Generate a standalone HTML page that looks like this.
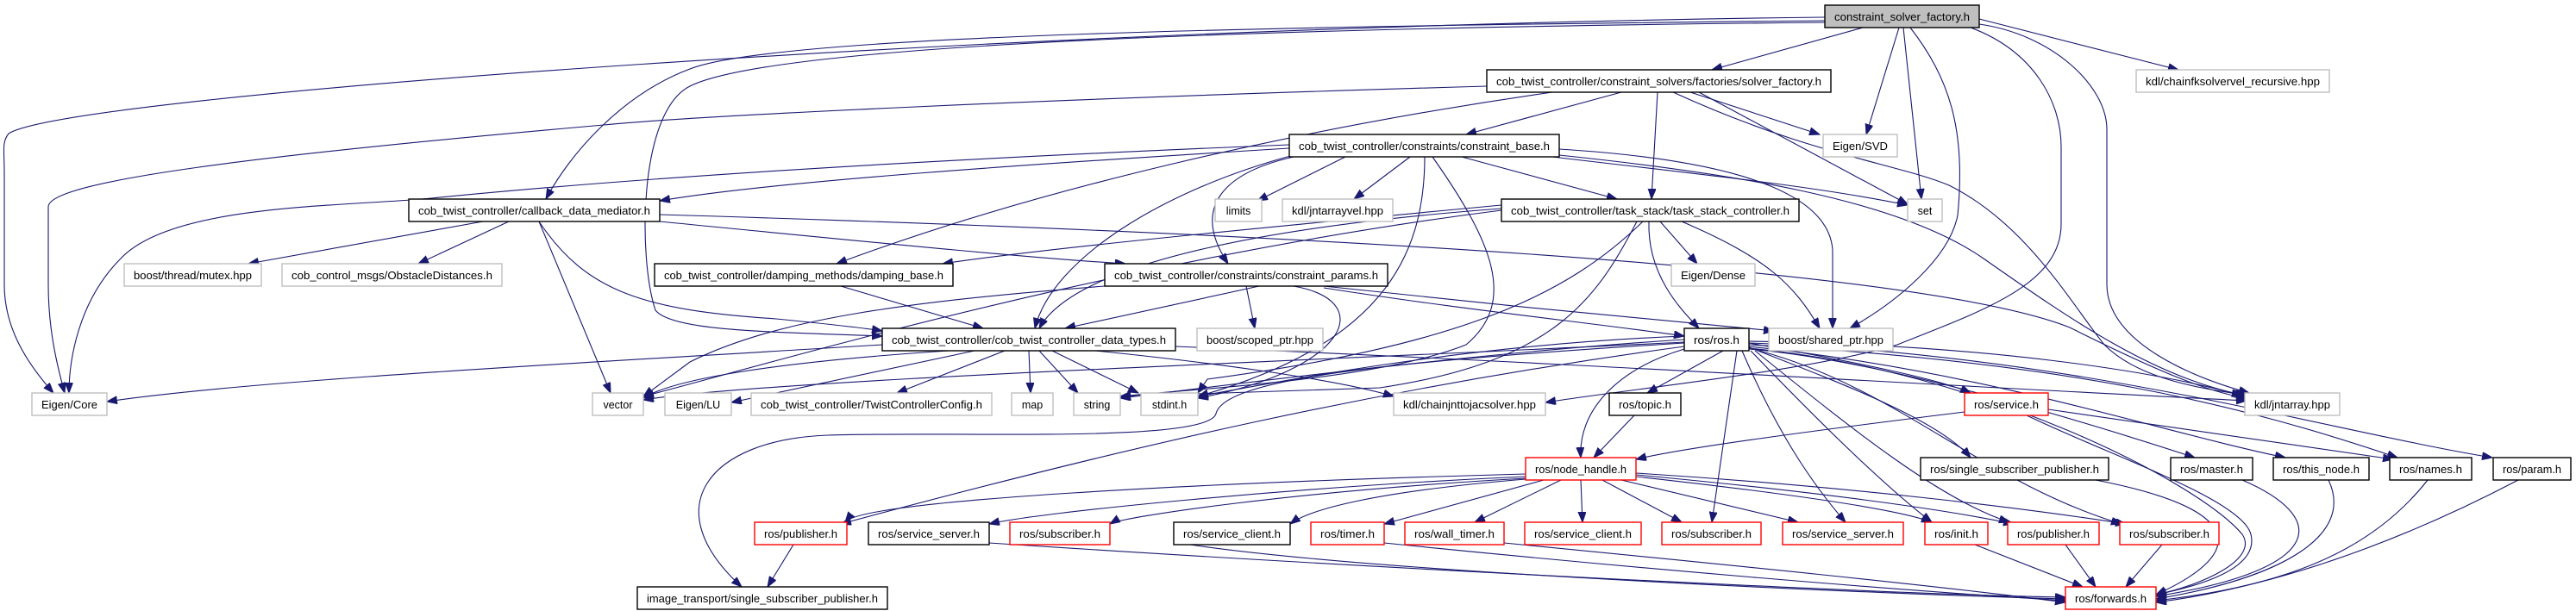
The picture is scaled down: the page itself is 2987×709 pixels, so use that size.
<!DOCTYPE html>
<html><head><meta charset="utf-8"><style>
html,body{margin:0;padding:0;background:#fff;}
svg{display:block;}
text{font-family:"Liberation Sans",Arial,sans-serif;font-size:12.5px;fill:#000;}
.e{fill:none;stroke:#191970;stroke-width:1.1;marker-end:url(#ah);}
.b{fill:#fff;stroke:#000;stroke-width:1.4;}
.g{fill:#fff;stroke:#bfbfbf;stroke-width:1.4;}
.r{fill:#fff;stroke:#ff0000;stroke-width:1.4;}
.t{fill:#bfbfbf;stroke:#000;stroke-width:1.4;}
</style></head><body>
<svg width="2987" height="709" viewBox="0 0 2987 709" xmlns="http://www.w3.org/2000/svg">
<defs><marker id="ah" markerWidth="13" markerHeight="10" refX="12" refY="4.5" orient="auto" markerUnits="userSpaceOnUse"><path d="M0,0 L12,4.5 L0,9 z" fill="#191970" stroke="#191970"/></marker></defs>
<g>
<path class="e" d="M2116,20 C1200,30 80,110 10,155 C2,165 5,175 5,200 L5,330 C5,380 30,420 62,456"/>
<path class="e" d="M2116,24 C1500,30 900,40 800,80 C720,110 660,180 633,231"/>
<path class="e" d="M2116,26 C1500,32 900,50 800,100 C740,130 740,300 760,360 C780,385 900,385 1023,390"/>
<path class="e" d="M2160,32 L1985,81"/>
<path class="e" d="M2202,32 L2164,156"/>
<path class="e" d="M2207,32 L2228,231"/>
<path class="e" d="M2215,32 C2260,90 2280,150 2270,250 C2260,300 2200,350 2145,381"/>
<path class="e" d="M2295,28 C2380,40 2443,100 2443,150 L2443,330 C2443,400 2550,440 2608,456"/>
<path class="e" d="M2295,22 L2526,81"/>
<path class="e" d="M2285,32 C2360,60 2390,120 2390,170 L2390,260 C2390,330 2300,360 2200,400 C2100,430 1900,450 1792,467"/>
<path class="e" d="M1724,100 C1200,115 800,135 700,145 C300,180 56,210 56,240 L56,330 C56,380 65,420 75,456"/>
<path class="e" d="M1800,107 C1500,150 1200,220 970,306"/>
<path class="e" d="M1880,107 L1700,156"/>
<path class="e" d="M1922,107 L1915,231"/>
<path class="e" d="M1960,107 L2110,156"/>
<path class="e" d="M1970,107 L2212,237"/>
<path class="e" d="M1940,107 C2100,180 2200,190 2260,215 C2350,260 2400,350 2440,400 C2480,440 2550,450 2600,458"/>
<path class="e" d="M1495,168 C1200,180 800,200 500,230 C400,240 200,236 140,300 C90,350 80,420 80,456"/>
<path class="e" d="M1495,172 C1200,190 900,210 765,233"/>
<path class="e" d="M1560,182 L1458,233"/>
<path class="e" d="M1635,182 L1570,231"/>
<path class="e" d="M1695,182 L1875,231"/>
<path class="e" d="M1800,182 C1950,200 2100,215 2212,238"/>
<path class="e" d="M1808,173 C2000,185 2120,220 2125,290 L2125,381"/>
<path class="e" d="M1808,180 C2000,200 2200,230 2300,300 C2400,370 2500,440 2605,459"/>
<path class="e" d="M1500,182 C1420,200 1380,240 1424,306"/>
<path class="e" d="M1500,180 C1350,220 1220,300 1200,381"/>
<path class="e" d="M1652,182 C1652,300 1600,400 1389,460"/>
<path class="e" d="M1661,182 C1730,280 1760,350 1700,400 C1600,440 1400,450 1299,460"/>
<path class="e" d="M560,257 L288,306"/>
<path class="e" d="M590,257 L485,306"/>
<path class="e" d="M625,257 L708,456"/>
<path class="e" d="M625,257 C680,340 750,360 900,370 C950,375 1000,380 1023,384"/>
<path class="e" d="M765,257 C1000,280 1200,300 1305,306"/>
<path class="e" d="M765,249 C1300,265 2200,300 2400,380 C2500,430 2560,455 2605,462"/>
<path class="e" d="M1741,238 C1400,270 1200,290 1093,306"/>
<path class="e" d="M1741,242 C1500,260 1250,300 1205,381"/>
<path class="e" d="M1741,244 C1300,300 900,420 746,460"/>
<path class="e" d="M1925,257 L1968,306"/>
<path class="e" d="M1912,257 C1910,320 1950,360 1970,381"/>
<path class="e" d="M1950,257 C2050,300 2080,330 2110,381"/>
<path class="e" d="M1905,257 C1820,340 1700,400 1400,440 L1389,456"/>
<path class="e" d="M1898,257 C1850,350 1800,420 1600,450 L1299,460"/>
<path class="e" d="M975,332 L1140,381"/>
<path class="e" d="M1460,332 L1235,381"/>
<path class="e" d="M1281,332 C1050,350 900,370 800,420 L746,460"/>
<path class="e" d="M1500,332 C1600,350 1560,430 1389,462"/>
<path class="e" d="M1445,332 L1455,381"/>
<path class="e" d="M1535,332 C1700,350 1900,370 2057,384"/>
<path class="e" d="M1535,334 C1700,360 1850,375 1953,390"/>
<path class="e" d="M1023,400 C700,420 300,440 124,466"/>
<path class="e" d="M1100,407 C900,420 780,440 746,462"/>
<path class="e" d="M1130,407 L848,467"/>
<path class="e" d="M1165,407 L1040,456"/>
<path class="e" d="M1193,407 L1195,456"/>
<path class="e" d="M1205,407 L1250,456"/>
<path class="e" d="M1220,407 L1320,456"/>
<path class="e" d="M1270,407 C1400,420 1550,440 1616,460"/>
<path class="e" d="M1363,402 C1800,420 2300,450 2605,465"/>
<path class="e" d="M1953,390 C1700,400 1500,440 1389,460"/>
<path class="e" d="M1953,394 C1700,410 1400,450 1299,462"/>
<path class="e" d="M1953,397 C1500,420 900,440 746,464"/>
<path class="e" d="M1953,398 C1600,420 1420,440 1410,480 C1400,515 1100,500 960,505 C820,510 760,590 860,681"/>
<path class="e" d="M1953,402 C1600,450 1300,520 975,608"/>
<path class="e" d="M1998,407 L1910,456"/>
<path class="e" d="M1953,405 C1870,430 1830,480 1833,531"/>
<path class="e" d="M2028,398 C2150,420 2250,440 2285,456"/>
<path class="e" d="M2028,403 C2150,450 2250,490 2285,531"/>
<path class="e" d="M2014,407 L1985,606"/>
<path class="e" d="M2020,407 C2060,500 2100,560 2140,606"/>
<path class="e" d="M2030,407 C2100,480 2180,560 2240,606"/>
<path class="e" d="M2035,407 C2150,500 2250,580 2330,606"/>
<path class="e" d="M2040,407 C2200,450 2300,560 2460,608"/>
<path class="e" d="M2028,405 C2200,420 2450,500 2545,531"/>
<path class="e" d="M2028,402 C2300,430 2500,500 2650,531"/>
<path class="e" d="M2028,400 C2400,420 2600,470 2780,531"/>
<path class="e" d="M2028,398 C2400,410 2700,500 2890,531"/>
<path class="e" d="M2028,396 C2300,400 2500,430 2603,460"/>
<path class="e" d="M2028,404 C2300,430 2550,560 2600,620 C2620,650 2550,680 2500,690"/>
<path class="e" d="M1895,482 L1848,531"/>
<path class="e" d="M2278,478 C2100,500 1950,520 1897,533"/>
<path class="e" d="M2375,475 L2775,533"/>
<path class="e" d="M2350,482 C2450,530 2600,580 2610,620 C2620,660 2550,680 2500,690"/>
<path class="e" d="M1769,550 C1400,560 1000,580 980,606"/>
<path class="e" d="M1769,553 C1500,565 1200,595 1147,608"/>
<path class="e" d="M1769,555 C1500,570 1300,600 1287,608"/>
<path class="e" d="M1769,556 C1600,570 1520,590 1496,608"/>
<path class="e" d="M1790,557 L1605,608"/>
<path class="e" d="M1810,557 L1710,606"/>
<path class="e" d="M1833,557 L1835,606"/>
<path class="e" d="M1858,557 L1950,606"/>
<path class="e" d="M1880,557 L2085,606"/>
<path class="e" d="M1897,553 C2050,570 2200,590 2240,606"/>
<path class="e" d="M1897,551 C2100,570 2250,590 2335,608"/>
<path class="e" d="M1897,549 C2150,565 2350,590 2465,608"/>
<path class="e" d="M920,632 L890,681"/>
<path class="e" d="M1147,630 C1600,660 2200,690 2395,693"/>
<path class="e" d="M1380,632 C1600,665 2200,690 2395,695"/>
<path class="e" d="M1605,630 C1900,660 2200,685 2395,697"/>
<path class="e" d="M1744,630 C2000,655 2250,680 2395,699"/>
<path class="e" d="M2290,632 L2415,681"/>
<path class="e" d="M2395,632 L2430,681"/>
<path class="e" d="M2507,632 L2465,681"/>
<path class="e" d="M2430,557 C2600,590 2610,640 2500,690"/>
<path class="e" d="M2600,557 C2700,600 2700,660 2500,692"/>
<path class="e" d="M2700,557 C2730,620 2650,670 2500,695"/>
<path class="e" d="M2815,557 C2750,640 2650,680 2500,697"/>
<path class="e" d="M2920,557 C2800,620 2650,680 2500,699"/>
</g>
<g>
<rect class="t" x="2116" y="6" width="179" height="26"/><text x="2205.5" y="24" text-anchor="middle" textLength="157" lengthAdjust="spacingAndGlyphs">constraint_solver_factory.h</text>
<rect class="b" x="1724" y="81" width="399" height="26"/><text x="1923.5" y="99" text-anchor="middle" textLength="377" lengthAdjust="spacingAndGlyphs">cob_twist_controller/constraint_solvers/factories/solver_factory.h</text>
<rect class="g" x="2477" y="81" width="224" height="26"/><text x="2589" y="99" text-anchor="middle" textLength="202" lengthAdjust="spacingAndGlyphs">kdl/chainfksolvervel_recursive.hpp</text>
<rect class="b" x="1495" y="156" width="313" height="26"/><text x="1651.5" y="174" text-anchor="middle" textLength="291" lengthAdjust="spacingAndGlyphs">cob_twist_controller/constraints/constraint_base.h</text>
<rect class="g" x="2114" y="156" width="86" height="26"/><text x="2157" y="174" text-anchor="middle" textLength="64" lengthAdjust="spacingAndGlyphs">Eigen/SVD</text>
<rect class="b" x="474" y="231" width="291" height="26"/><text x="619.5" y="249" text-anchor="middle" textLength="269" lengthAdjust="spacingAndGlyphs">cob_twist_controller/callback_data_mediator.h</text>
<rect class="g" x="1409" y="231" width="54" height="26"/><text x="1436" y="249" text-anchor="middle">limits</text>
<rect class="g" x="1487" y="231" width="128" height="26"/><text x="1551" y="249" text-anchor="middle" textLength="106" lengthAdjust="spacingAndGlyphs">kdl/jntarrayvel.hpp</text>
<rect class="b" x="1741" y="231" width="345" height="26"/><text x="1913.5" y="249" text-anchor="middle" textLength="323" lengthAdjust="spacingAndGlyphs">cob_twist_controller/task_stack/task_stack_controller.h</text>
<rect class="g" x="2212" y="231" width="40" height="26"/><text x="2232" y="249" text-anchor="middle">set</text>
<rect class="g" x="144" y="306" width="159" height="26"/><text x="223.5" y="324" text-anchor="middle" textLength="137" lengthAdjust="spacingAndGlyphs">boost/thread/mutex.hpp</text>
<rect class="g" x="327" y="306" width="255" height="26"/><text x="454.5" y="324" text-anchor="middle" textLength="233" lengthAdjust="spacingAndGlyphs">cob_control_msgs/ObstacleDistances.h</text>
<rect class="b" x="759" y="306" width="346" height="26"/><text x="932" y="324" text-anchor="middle" textLength="324" lengthAdjust="spacingAndGlyphs">cob_twist_controller/damping_methods/damping_base.h</text>
<rect class="b" x="1281" y="306" width="328" height="26"/><text x="1445" y="324" text-anchor="middle" textLength="306" lengthAdjust="spacingAndGlyphs">cob_twist_controller/constraints/constraint_params.h</text>
<rect class="g" x="1938" y="306" width="97" height="26"/><text x="1986.5" y="324" text-anchor="middle" textLength="75" lengthAdjust="spacingAndGlyphs">Eigen/Dense</text>
<rect class="b" x="1023" y="381" width="340" height="26"/><text x="1193" y="399" text-anchor="middle" textLength="318" lengthAdjust="spacingAndGlyphs">cob_twist_controller/cob_twist_controller_data_types.h</text>
<rect class="g" x="1388" y="381" width="146" height="26"/><text x="1461" y="399" text-anchor="middle" textLength="124" lengthAdjust="spacingAndGlyphs">boost/scoped_ptr.hpp</text>
<rect class="b" x="1953" y="381" width="75" height="26"/><text x="1990.5" y="399" text-anchor="middle" textLength="53" lengthAdjust="spacingAndGlyphs">ros/ros.h</text>
<rect class="g" x="2051" y="381" width="144" height="26"/><text x="2123" y="399" text-anchor="middle" textLength="122" lengthAdjust="spacingAndGlyphs">boost/shared_ptr.hpp</text>
<rect class="g" x="37" y="456" width="87" height="26"/><text x="80.5" y="474" text-anchor="middle" textLength="65" lengthAdjust="spacingAndGlyphs">Eigen/Core</text>
<rect class="g" x="687" y="456" width="59" height="26"/><text x="716.5" y="474" text-anchor="middle">vector</text>
<rect class="g" x="771" y="456" width="77" height="26"/><text x="809.5" y="474" text-anchor="middle">Eigen/LU</text>
<rect class="g" x="871" y="456" width="279" height="26"/><text x="1010.5" y="474" text-anchor="middle" textLength="257" lengthAdjust="spacingAndGlyphs">cob_twist_controller/TwistControllerConfig.h</text>
<rect class="g" x="1173" y="456" width="48" height="26"/><text x="1197" y="474" text-anchor="middle">map</text>
<rect class="g" x="1245" y="456" width="54" height="26"/><text x="1272" y="474" text-anchor="middle">string</text>
<rect class="g" x="1323" y="456" width="66" height="26"/><text x="1356" y="474" text-anchor="middle">stdint.h</text>
<rect class="g" x="1616" y="456" width="176" height="26"/><text x="1704" y="474" text-anchor="middle" textLength="154" lengthAdjust="spacingAndGlyphs">kdl/chainjnttojacsolver.hpp</text>
<rect class="b" x="1866" y="456" width="83" height="26"/><text x="1907.5" y="474" text-anchor="middle" textLength="61" lengthAdjust="spacingAndGlyphs">ros/topic.h</text>
<rect class="r" x="2278" y="456" width="97" height="26"/><text x="2326.5" y="474" text-anchor="middle" textLength="75" lengthAdjust="spacingAndGlyphs">ros/service.h</text>
<rect class="g" x="2603" y="456" width="110" height="26"/><text x="2658" y="474" text-anchor="middle" textLength="88" lengthAdjust="spacingAndGlyphs">kdl/jntarray.hpp</text>
<rect class="r" x="1769" y="531" width="128" height="26"/><text x="1833" y="549" text-anchor="middle" textLength="106" lengthAdjust="spacingAndGlyphs">ros/node_handle.h</text>
<rect class="b" x="2227" y="531" width="218" height="26"/><text x="2336" y="549" text-anchor="middle" textLength="196" lengthAdjust="spacingAndGlyphs">ros/single_subscriber_publisher.h</text>
<rect class="b" x="2517" y="531" width="95" height="26"/><text x="2564.5" y="549" text-anchor="middle" textLength="73" lengthAdjust="spacingAndGlyphs">ros/master.h</text>
<rect class="b" x="2636" y="531" width="111" height="26"/><text x="2691.5" y="549" text-anchor="middle" textLength="89" lengthAdjust="spacingAndGlyphs">ros/this_node.h</text>
<rect class="b" x="2771" y="531" width="95" height="26"/><text x="2818.5" y="549" text-anchor="middle" textLength="73" lengthAdjust="spacingAndGlyphs">ros/names.h</text>
<rect class="b" x="2891" y="531" width="90" height="26"/><text x="2936" y="549" text-anchor="middle" textLength="68" lengthAdjust="spacingAndGlyphs">ros/param.h</text>
<rect class="r" x="875" y="606" width="107" height="26"/><text x="928.5" y="624" text-anchor="middle" textLength="85" lengthAdjust="spacingAndGlyphs">ros/publisher.h</text>
<rect class="b" x="1007" y="606" width="140" height="26"/><text x="1077" y="624" text-anchor="middle" textLength="118" lengthAdjust="spacingAndGlyphs">ros/service_server.h</text>
<rect class="r" x="1171" y="606" width="116" height="26"/><text x="1229" y="624" text-anchor="middle" textLength="94" lengthAdjust="spacingAndGlyphs">ros/subscriber.h</text>
<rect class="b" x="1361" y="606" width="135" height="26"/><text x="1428.5" y="624" text-anchor="middle" textLength="113" lengthAdjust="spacingAndGlyphs">ros/service_client.h</text>
<rect class="r" x="1520" y="606" width="85" height="26"/><text x="1562.5" y="624" text-anchor="middle" textLength="63" lengthAdjust="spacingAndGlyphs">ros/timer.h</text>
<rect class="r" x="1629" y="606" width="115" height="26"/><text x="1686.5" y="624" text-anchor="middle" textLength="93" lengthAdjust="spacingAndGlyphs">ros/wall_timer.h</text>
<rect class="r" x="1768" y="606" width="135" height="26"/><text x="1835.5" y="624" text-anchor="middle" textLength="113" lengthAdjust="spacingAndGlyphs">ros/service_client.h</text>
<rect class="r" x="1927" y="606" width="115" height="26"/><text x="1984.5" y="624" text-anchor="middle" textLength="93" lengthAdjust="spacingAndGlyphs">ros/subscriber.h</text>
<rect class="r" x="2067" y="606" width="140" height="26"/><text x="2137" y="624" text-anchor="middle" textLength="118" lengthAdjust="spacingAndGlyphs">ros/service_server.h</text>
<rect class="r" x="2232" y="606" width="73" height="26"/><text x="2268.5" y="624" text-anchor="middle" textLength="51" lengthAdjust="spacingAndGlyphs">ros/init.h</text>
<rect class="r" x="2328" y="606" width="106" height="26"/><text x="2381" y="624" text-anchor="middle" textLength="84" lengthAdjust="spacingAndGlyphs">ros/publisher.h</text>
<rect class="r" x="2458" y="606" width="115" height="26"/><text x="2515.5" y="624" text-anchor="middle" textLength="93" lengthAdjust="spacingAndGlyphs">ros/subscriber.h</text>
<rect class="b" x="739" y="681" width="290" height="26"/><text x="884" y="699" text-anchor="middle" textLength="268" lengthAdjust="spacingAndGlyphs">image_transport/single_subscriber_publisher.h</text>
<rect class="r" x="2395" y="681" width="105" height="26"/><text x="2447.5" y="699" text-anchor="middle" textLength="83" lengthAdjust="spacingAndGlyphs">ros/forwards.h</text>
</g>
</svg>
</body></html>
